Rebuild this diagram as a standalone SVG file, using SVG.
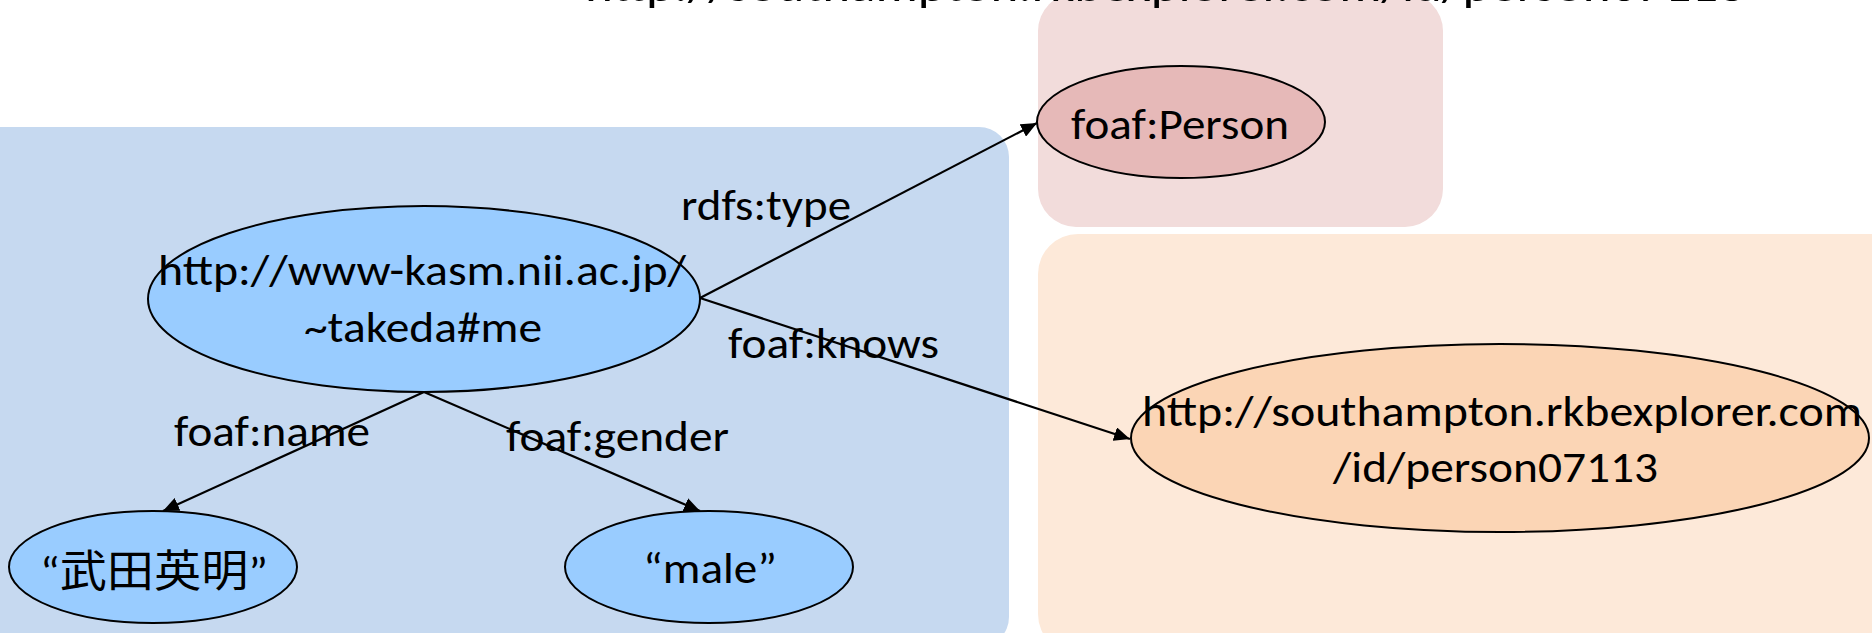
<svg xmlns="http://www.w3.org/2000/svg" width="1872" height="633" viewBox="0 0 1872 633">
<defs>
<marker id="arr" markerUnits="userSpaceOnUse" markerWidth="18" markerHeight="14" refX="16" refY="7" orient="auto">
<path d="M0,0 L16,7 L0,14 Z" fill="#000"/>
</marker>
</defs>
<style>
text{font-family:Carlito,"Liberation Sans",Arial,"Noto Sans CJK JP",sans-serif;font-size:44px;fill:#000}
.node ellipse{stroke:#000;stroke-width:2}
.edge{stroke:#000;stroke-width:2.2;fill:none;marker-end:url(#arr)}
</style>
<g id="groups">
<rect id="blue-box" x="-40" y="127" width="1049" height="520" rx="30" fill="#C6D9F0"/>
<rect id="pink-box" x="1038" y="-7" width="405" height="234" rx="38" fill="#F2DCDB"/>
<rect id="orange-box" x="1038" y="234" width="880" height="420" rx="40" fill="#FDE9D9"/>
</g>
<text id="top-text" x="585" y="1" font-size="48" textLength="1160" lengthAdjust="spacingAndGlyphs">http://southampton.rkbexplorer.com/id/person07113</text>
<g id="connectors">
<line class="edge" x1="700" y1="298" x2="1037" y2="123"/>
<line class="edge" x1="700" y1="298" x2="1130" y2="439"/>
<line class="edge" x1="424" y1="392" x2="163" y2="511"/>
<line class="edge" x1="424" y1="392" x2="700" y2="511"/>
<text x="681" y="220" textLength="170" lengthAdjust="spacingAndGlyphs">rdfs:type</text>
<text x="728" y="358" textLength="211" lengthAdjust="spacingAndGlyphs">foaf:knows</text>
<text x="174" y="446" textLength="196" lengthAdjust="spacingAndGlyphs">foaf:name</text>
<text x="506" y="451" textLength="223" lengthAdjust="spacingAndGlyphs">foaf:gender</text>
</g>
<g id="node-takeda" class="node">
<ellipse cx="424" cy="299" rx="276" ry="93" fill="#99CCFF"/>
<text x="158" y="285" textLength="528" lengthAdjust="spacingAndGlyphs">http://www-kasm.nii.ac.jp/</text>
<text x="304" y="342" textLength="238" lengthAdjust="spacingAndGlyphs">~takeda#me</text>
</g>
<g id="node-person" class="node">
<ellipse cx="1181" cy="122" rx="144" ry="56" fill="#E6B9B8"/>
<text x="1071" y="139" font-size="46" textLength="218" lengthAdjust="spacingAndGlyphs">foaf:Person</text>
</g>
<g id="node-southampton" class="node">
<ellipse cx="1500" cy="438" rx="369" ry="94" fill="#FBD5B5"/>
<text x="1142" y="426" textLength="720" lengthAdjust="spacingAndGlyphs">http://southampton.rkbexplorer.com</text>
<text x="1333" y="482" textLength="325" lengthAdjust="spacingAndGlyphs">/id/person07113</text>
</g>
<g id="node-name" class="node">
<ellipse cx="153" cy="567" rx="144" ry="56" fill="#99CCFF"/>
<text x="40" y="587" textLength="228" lengthAdjust="spacingAndGlyphs">“武田英明”</text>
</g>
<g id="node-male" class="node">
<ellipse cx="709" cy="567" rx="144" ry="56" fill="#99CCFF"/>
<text x="643" y="583" textLength="134" lengthAdjust="spacingAndGlyphs">“male”</text>
</g>
</svg>
